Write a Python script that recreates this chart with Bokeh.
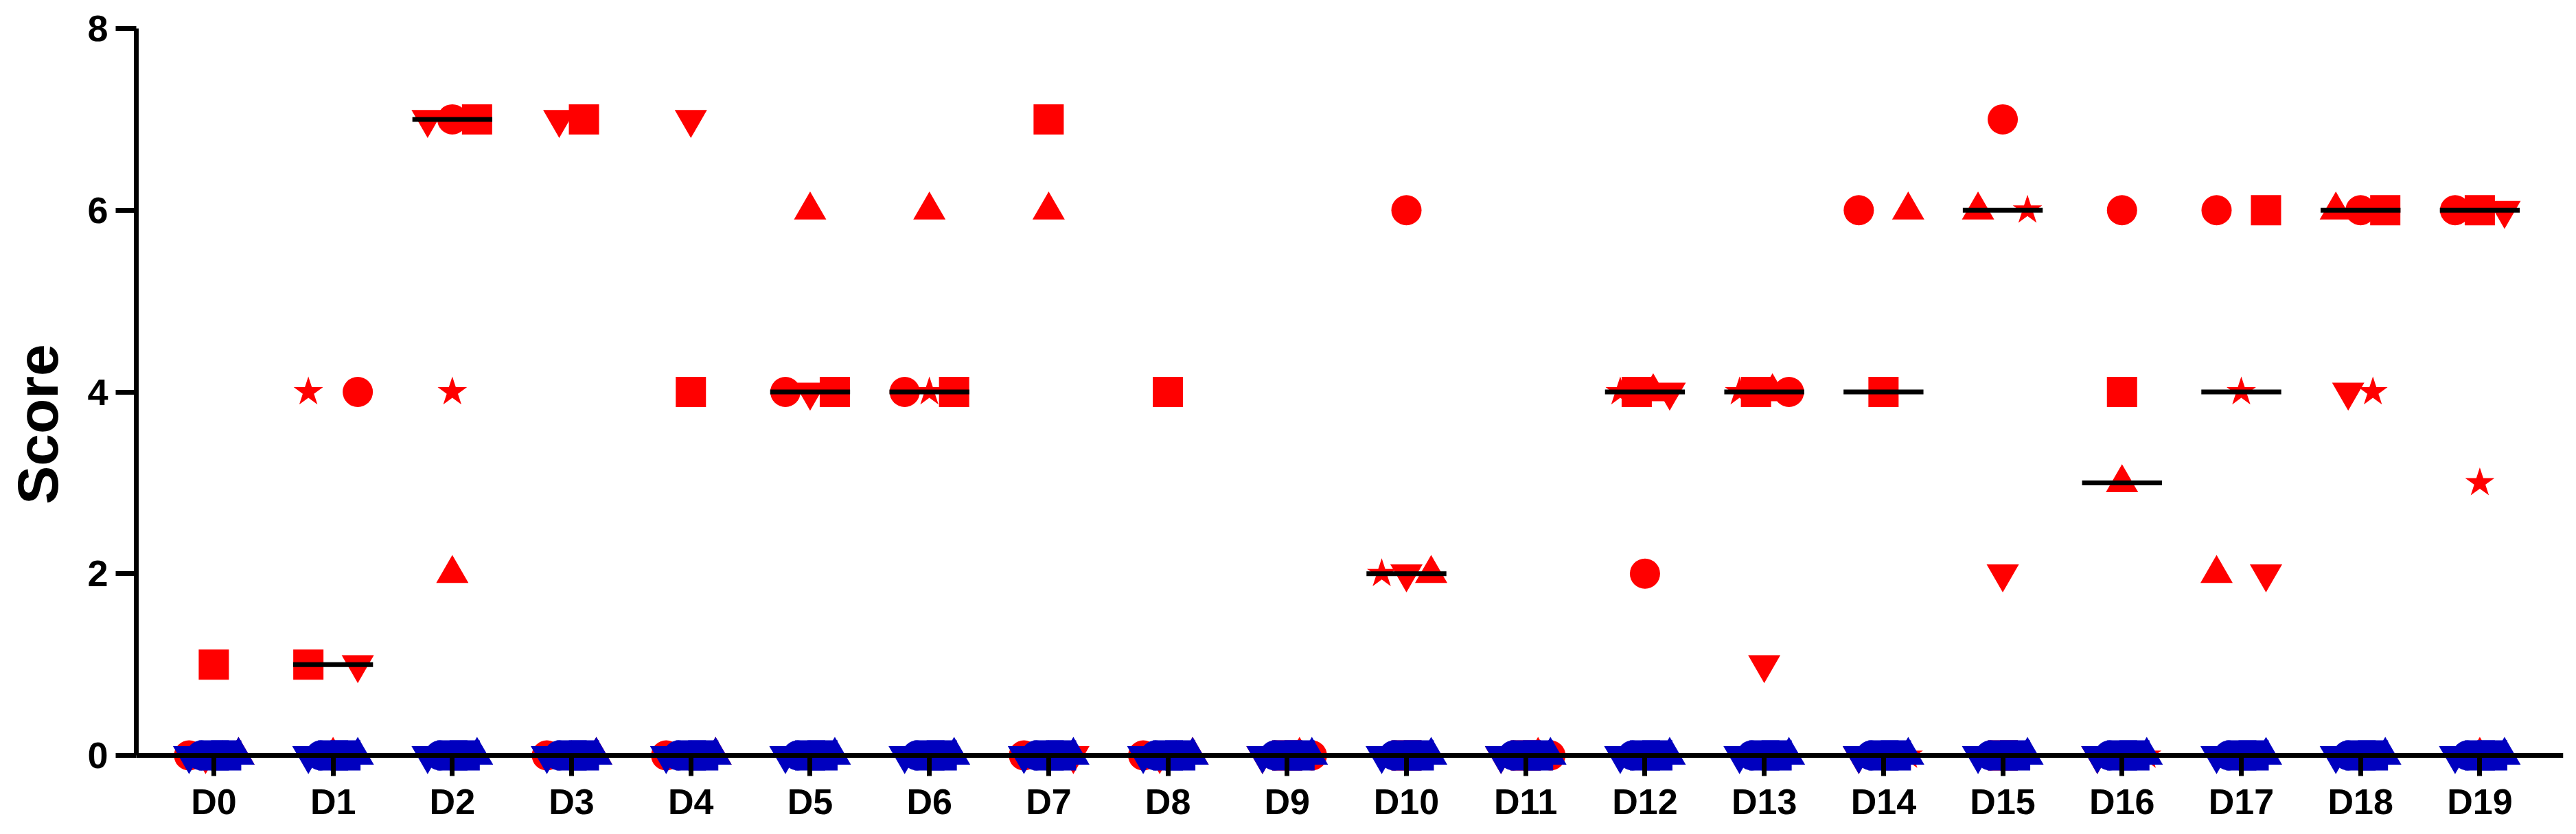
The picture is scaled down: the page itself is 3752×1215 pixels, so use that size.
import numpy as np
from bokeh.plotting import figure
from bokeh.models import ColumnDataSource, FixedTicker
from bokeh.embed import file_html
from bokeh.resources import INLINE

# ---------------- data ----------------
days = [f"D{i}" for i in range(20)]

# red group: one animal per marker shape
red_circle   = [0, 4, 7, 0, 0, 4, 4, 0, 0, 0, 6, 0, 2, 4, 6, 7, 6, 6, 6, 6]
red_square   = [1, 1, 7, 7, 4, 4, 4, 7, 4, 0, 0, 0, 4, 4, 4, 0, 4, 6, 6, 6]
red_triangle = [0, 0, 2, 0, 0, 6, 6, 6, 0, 0, 2, 0, 4, 4, 6, 6, 3, 2, 6, 0]
red_invtri   = [0, 1, 7, 7, 7, 4, 0, 0, 0, 0, 2, 0, 4, 1, 0, 2, 0, 2, 4, 6]
red_star     = [0, 4, 4, 0, 0, 0, 4, 0, 0, 0, 2, 0, 4, 4, 0, 6, 0, 4, 4, 3]

# blue group: all animals scored 0 every day
blue_invtri   = [0, 0, 0, 0, 0, 0, 0, 0, 0, 0, 0, 0, 0, 0, 0, 0, 0, 0, 0, 0]
blue_circle   = [0, 0, 0, 0, 0, 0, 0, 0, 0, 0, 0, 0, 0, 0, 0, 0, 0, 0, 0, 0]
blue_square_a = [0, 0, 0, 0, 0, 0, 0, 0, 0, 0, 0, 0, 0, 0, 0, 0, 0, 0, 0, 0]
blue_square_b = [0, 0, 0, 0, 0, 0, 0, 0, 0, 0, 0, 0, 0, 0, 0, 0, 0, 0, 0, 0]
blue_triangle = [0, 0, 0, 0, 0, 0, 0, 0, 0, 0, 0, 0, 0, 0, 0, 0, 0, 0, 0, 0]

y_ticks = [0, 2, 4, 6, 8]

# ---------------- layout (scatter spread slots, not data) ----------------
SLOT = 0.1036  # one spread slot, in category units
slot_circle   = [-2, 2, 0, -2, -2, -2, -2, -2, -2, 2, 0, 2, 0, 2, -2, 0, 0, -2, 0, -2]
slot_square   = [0, -2, 2, 1, 0, 2, 2, 0, 0, 0, 0, 0, -0.667, -0.667, 0, 0, 0, 2, 2, 0]
slot_triangle = [2, 0, 0, 2, 2, 0, 0, 0, 2, 1, 2, 1, 0.667, 0.667, 2, -2, 0, -2, -2, 0]
slot_invtri   = [-0.667, 2, -2, -1, 0, 0, 0, 2, -0.667, -2, 0, -2, 2, 0, -2, 0, -2, 2, -1, 2]
slot_star     = [0.667, -2, 0, 0, 0, 0, 0, 0, 0.667, -1, -2, -1, -2, -2, 2, 2, 2, 0, 1, 0]
blue_slots = [-2, -1, 0, 1, 2]

RED = "#FF0000"
BLUE = "#0000BF"
MSIZE = 44
FONT = "Liberation Sans"

p = figure(frame_width=3535, frame_height=1153,
           x_range=(-0.65, 19.70), y_range=(-0.71, 8),
           min_border_left=198, min_border_right=3,
           min_border_top=41, min_border_bottom=5,
           output_backend="svg", toolbar_location=None)
p.outline_line_color = None
p.xgrid.visible = False
p.ygrid.visible = False
p.background_fill_color = "white"

idx = np.arange(len(days))

def add_points(vals, slots, marker, color, size=MSIZE):
    src = ColumnDataSource(dict(x=idx + np.array(slots, dtype=float) * SLOT,
                                y=np.array(vals, dtype=float)))
    p.scatter("x", "y", source=src, marker=marker, size=size,
              fill_color=color, line_color=None)

# red group
add_points(red_circle, slot_circle, "circle", RED)
add_points(red_square, slot_square, "square", RED)
add_points(red_triangle, slot_triangle, "triangle", RED, 47)
add_points(red_invtri, slot_invtri, "inverted_triangle", RED, 47)
add_points(red_star, slot_star, "star", RED, 45)

# medians of red group
red_all = np.array([red_circle, red_square, red_triangle, red_invtri, red_star], dtype=float)
med = np.median(red_all, axis=0)
HALF = 0.335
p.segment(x0=idx - HALF, x1=idx + HALF, y0=med, y1=med,
          line_color="black", line_width=7, line_cap="butt")

# blue group
blue_sets = [(blue_invtri, "inverted_triangle", 47), (blue_circle, "circle", MSIZE),
             (blue_square_a, "square", MSIZE), (blue_square_b, "square", MSIZE),
             (blue_triangle, "triangle", 47)]
for (vals, marker, sz), s in zip(blue_sets, blue_slots):
    add_points(vals, [s] * len(days), marker, BLUE, sz)

# x axis at y = 0
xa = p.xaxis[0]
xa.fixed_location = 0
xa.ticker = FixedTicker(ticks=list(range(len(days))))
xa.major_label_overrides = {i: d for i, d in enumerate(days)}
xa.minor_tick_line_color = None
xa.major_tick_in = 0
xa.major_tick_out = 30
xa.axis_line_width = 7
xa.major_tick_line_width = 7
xa.axis_line_color = "black"
xa.major_tick_line_color = "black"
xa.major_label_text_font = FONT
xa.major_label_text_font_style = "bold"
xa.major_label_text_font_size = "52px"
xa.major_label_text_color = "black"
xa.major_label_standoff = 8

ya = p.yaxis[0]
ya.bounds = (0, 8)
ya.ticker = FixedTicker(ticks=y_ticks)
ya.minor_tick_line_color = None
ya.major_tick_in = 0
ya.major_tick_out = 30
ya.axis_line_width = 7
ya.major_tick_line_width = 7
ya.axis_line_color = "black"
ya.major_tick_line_color = "black"
ya.major_label_text_font = FONT
ya.major_label_text_font_style = "bold"
ya.major_label_text_font_size = "54px"
ya.major_label_text_color = "black"
ya.major_label_standoff = 11
ya.axis_label = "Score"
ya.axis_label_text_font = FONT
ya.axis_label_text_font_style = "bold"
ya.axis_label_text_font_size = "84px"
ya.axis_label_text_color = "black"
ya.axis_label_standoff = 22

open("out.html", "w").write(file_html(p, INLINE))
